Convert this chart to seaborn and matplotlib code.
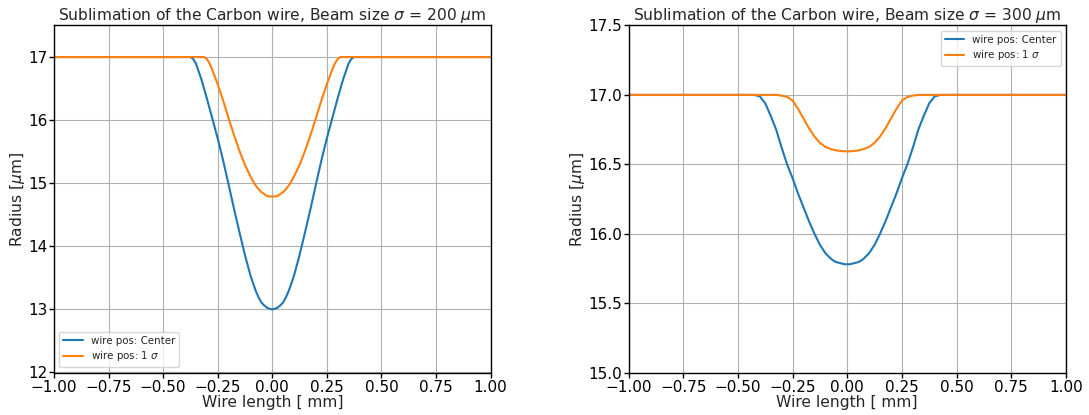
import matplotlib
matplotlib.use("Agg")
import matplotlib.pyplot as plt
import seaborn as sns
import pandas as pd

# Wire radius along the wire after sublimation, beam sigma = 200 um
x_200_center = [-1.0, -0.375, -0.3625, -0.35, -0.325, -0.30, -0.275, -0.25, -0.225, -0.20,
                -0.175, -0.15, -0.125, -0.10, -0.0875, -0.075, -0.0625, -0.05, -0.0375,
                -0.025, -0.0125, 0.0,
                0.0125, 0.025, 0.0375, 0.05, 0.0625, 0.075, 0.0875, 0.10, 0.125, 0.15,
                0.175, 0.20, 0.225, 0.25, 0.275, 0.30, 0.325, 0.35, 0.3625, 0.375, 1.0]
r_200_center = [17.00, 17.00, 16.97, 16.90, 16.65, 16.35, 16.03, 15.71, 15.36, 14.98,
                14.59, 14.22, 13.86, 13.54, 13.41, 13.29, 13.19, 13.11, 13.065,
                13.03, 13.01, 13.00,
                13.01, 13.03, 13.065, 13.11, 13.19, 13.29, 13.41, 13.54, 13.86, 14.22,
                14.59, 14.98, 15.36, 15.71, 16.03, 16.35, 16.65, 16.90, 16.97, 17.00, 17.00]

x_200_sigma = [-1.0, -0.3125, -0.30, -0.2875, -0.275, -0.25, -0.225, -0.20, -0.175, -0.15,
               -0.125, -0.10, -0.0875, -0.075, -0.0625, -0.05, -0.0375, -0.025, -0.0125, 0.0,
               0.0125, 0.025, 0.0375, 0.05, 0.0625, 0.075, 0.0875, 0.10, 0.125, 0.15,
               0.175, 0.20, 0.225, 0.25, 0.275, 0.2875, 0.30, 0.3125, 1.0]
r_200_sigma = [17.00, 17.00, 16.97, 16.90, 16.80, 16.57, 16.31, 16.03, 15.76, 15.51,
               15.29, 15.11, 15.03, 14.96, 14.905, 14.86, 14.83, 14.80, 14.79, 14.79,
               14.79, 14.80, 14.83, 14.86, 14.905, 14.96, 15.03, 15.11, 15.29, 15.51,
               15.76, 16.03, 16.31, 16.57, 16.80, 16.90, 16.97, 17.00, 17.00]

# Beam sigma = 300 um
x_300_center = [-1.0, -0.425, -0.40, -0.375, -0.35, -0.325, -0.30, -0.275, -0.25, -0.225,
                -0.20, -0.175, -0.15, -0.125, -0.10, -0.0875, -0.075, -0.0625, -0.05,
                -0.0375, -0.025, -0.0125, 0.0,
                0.0125, 0.025, 0.0375, 0.05, 0.0625, 0.075, 0.0875, 0.10, 0.125, 0.15,
                0.175, 0.20, 0.225, 0.25, 0.275, 0.30, 0.325, 0.35, 0.375, 0.40, 0.425, 1.0]
r_300_center = [17.00, 17.00, 16.99, 16.94, 16.85, 16.75, 16.62, 16.50, 16.40, 16.29,
                16.19, 16.09, 16.00, 15.92, 15.86, 15.84, 15.82, 15.805, 15.795,
                15.79, 15.785, 15.78, 15.78,
                15.78, 15.785, 15.79, 15.795, 15.805, 15.82, 15.84, 15.86, 15.92, 16.00,
                16.09, 16.19, 16.29, 16.40, 16.50, 16.62, 16.75, 16.85, 16.94, 16.99, 17.00, 17.00]

x_300_sigma = [-1.0, -0.325, -0.30, -0.275, -0.25, -0.225, -0.20, -0.175, -0.15, -0.125,
               -0.10, -0.075, -0.05, -0.025, 0.0,
               0.025, 0.05, 0.075, 0.10, 0.125, 0.15, 0.175, 0.20, 0.225, 0.25,
               0.275, 0.30, 0.325, 1.0]
r_300_sigma = [17.00, 17.00, 16.995, 16.985, 16.96, 16.90, 16.83, 16.76, 16.70, 16.655,
               16.625, 16.61, 16.60, 16.595, 16.593,
               16.595, 16.60, 16.61, 16.625, 16.655, 16.70, 16.76, 16.83, 16.90, 16.96,
               16.985, 16.995, 17.00, 17.00]

series_labels = ["wire pos: Center", r"wire pos: 1 $\sigma$"]
beam_sizes = [200, 300]
x_ticks = [-1.0, -0.75, -0.5, -0.25, 0.0, 0.25, 0.5, 0.75, 1.0]
y_ticks_200 = [12, 13, 14, 15, 16, 17]
y_ticks_300 = [15.0, 15.5, 16.0, 16.5, 17.0, 17.5]


def make_frame(xc, rc, xs, rs):
    a = pd.DataFrame({"x": xc, "r": rc, "pos": series_labels[0]})
    b = pd.DataFrame({"x": xs, "r": rs, "pos": series_labels[1]})
    return pd.concat([a, b], ignore_index=True)


frames = [make_frame(x_200_center, r_200_center, x_200_sigma, r_200_sigma),
          make_frame(x_300_center, r_300_center, x_300_sigma, r_300_sigma)]

sns.set_style("ticks")
plt.rcParams["font.family"] = ["DejaVu Sans"]
plt.rcParams["mathtext.fontset"] = "dejavusans"

fig = plt.figure(figsize=(10.89, 4.15), dpi=100)
W, H = 1089, 415
ax1 = fig.add_axes([54 / W, (H - 372.5) / H, 436.5 / W, 347 / H])
ax2 = fig.add_axes([628.5 / W, (H - 372.5) / H, 437.5 / W, 347 / H])

palette = {series_labels[0]: "#1f77b4", series_labels[1]: "#ff7f0e"}

for ax, df, beam, yt, ylim, loc in [
    (ax1, frames[0], beam_sizes[0], y_ticks_200, (12, 17.5), "lower left"),
    (ax2, frames[1], beam_sizes[1], y_ticks_300, (15.0, 17.5), "upper right"),
]:
    sns.lineplot(data=df, x="x", y="r", hue="pos", palette=palette, ax=ax,
                 linewidth=1.5, sort=False, estimator=None)
    ax.set_xlim(-1.0, 1.0)
    ax.set_ylim(*ylim)
    ax.set_xticks(x_ticks)
    ax.set_yticks(yt)
    if beam == 300:
        ax.set_yticklabels([f"{v:.1f}" for v in yt])
    ax.grid(True, color="#b0b0b0", linewidth=0.8)
    ax.set_axisbelow(True)
    for s in ax.spines.values():
        s.set_color("black")
        s.set_linewidth(1.0)
    ax.tick_params(axis="both", labelsize=11, colors="black", length=3.5, width=1)
    ax.tick_params(axis="y", pad=1)
    ax.tick_params(axis="x", pad=2)
    ax.set_xlabel("Wire length [ mm]", fontsize=11.2, labelpad=0)
    ax.set_ylabel(r"Radius [$\mu$m]", fontsize=11.2, labelpad=1)
    ax.set_title(rf"Sublimation of the Carbon wire, Beam size $\sigma$ = {beam} $\mu$m",
                 fontsize=11.2, pad=4)
    ax.legend(loc=loc, fontsize=7.4, frameon=True, title=None,
              labelspacing=0.35, handlelength=1.9)

fig.savefig("out.png", dpi=100)
